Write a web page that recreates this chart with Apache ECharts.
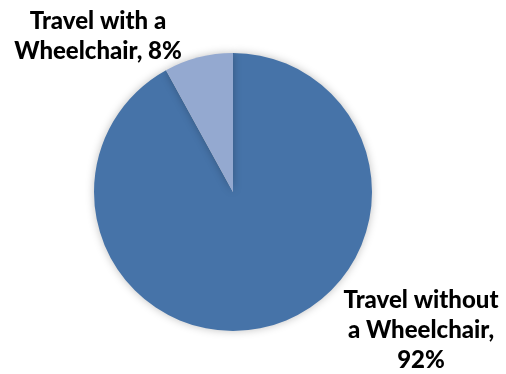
<!DOCTYPE html>
<html><head><meta charset="utf-8">
<script src="https://cdn.jsdelivr.net/npm/echarts@6/dist/echarts.min.js"></script>
<style>html,body{margin:0;padding:0;background:#fff}#c{width:506px;height:374px}</style>
</head><body><div id="c"></div>
<script>
const categories = ['Travel without a Wheelchair', 'Travel with a Wheelchair'];
const values = [92, 8];
const labelTexts = ['Travel without\na Wheelchair,\n92%', 'Travel with a\nWheelchair, 8%'];
const colors = ['#4673A8', '#94A9D0'];
const labelPos = [[421, 330], [98, 36]];

const chart = echarts.init(document.getElementById('c'), null, {renderer: 'canvas'});
chart.setOption({
  animation: false,
  series: [{
    type: 'pie',
    center: [233, 192],
    radius: 139,
    startAngle: 90,
    clockwise: true,
    data: categories.map((n, i) => ({name: n, value: values[i], itemStyle: {color: colors[i]}})),
    itemStyle: {shadowBlur: 8, shadowColor: 'rgba(0,0,0,0.25)', shadowOffsetX: 0, shadowOffsetY: 0},
    emphasis: {disabled: true},
    label: {
      show: true,
      position: 'outside',
      formatter: p => labelTexts[p.dataIndex],
      fontFamily: 'Lato',
      fontWeight: 900,
      fontSize: 24,
      lineHeight: 30,
      color: '#000',
      align: 'center',
      overflow: 'none',
      width: 220
    },
    labelLine: {show: false},
    labelLayout: function (params) {
      const p = labelPos[params.dataIndex];
      return {x: p[0], y: p[1], align: 'center', verticalAlign: 'middle', hideOverlap: false};
    }
  }]
});
</script></body></html>
